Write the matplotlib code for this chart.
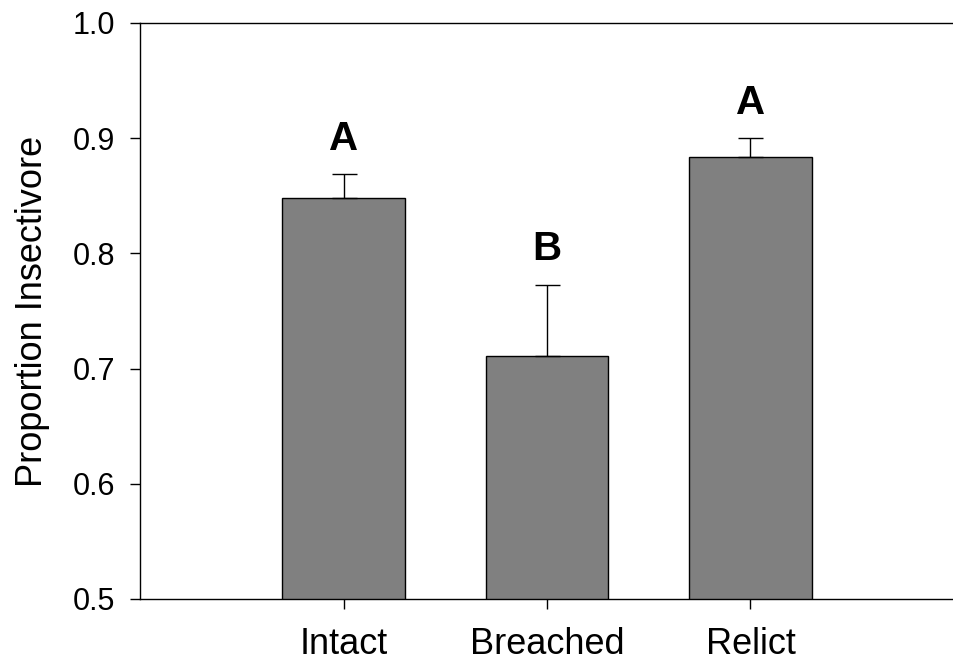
import matplotlib
matplotlib.use('Agg')
import matplotlib.pyplot as plt

plt.rcParams['font.family'] = ['Liberation Sans', 'DejaVu Sans']

# 数据
categories = ['Intact', 'Breached', 'Relict']
values = [0.848, 0.711, 0.884]
errors = [0.021, 0.062, 0.016]
letters = ['A', 'B', 'A']

fig = plt.figure(figsize=(9.54, 6.66), dpi=100)
ax = fig.add_axes([140 / 954, 1 - 599 / 666, 1 - 140 / 954, (599 - 23) / 666])

x = [1, 2, 3]
ax.bar(x, values, width=0.6, color='#808080', edgecolor='black', linewidth=1.0, zorder=2)
ax.errorbar(x, values, yerr=[[0] * 3, errors], fmt='none', ecolor='black',
            elinewidth=1.0, capsize=9, capthick=1.0, zorder=3)

for xi, v, e, lab in zip(x, values, errors, letters):
    ax.text(xi, v + e + 0.021, lab, ha='center', va='baseline',
            fontsize=29, fontweight='bold')

ax.set_xlim(0, 4)
ax.set_ylim(0.5, 1.0)
ax.set_xticks(x)
ax.set_xticklabels(categories, fontsize=26)
ax.set_yticks([0.5, 0.6, 0.7, 0.8, 0.9, 1.0])
ax.set_yticklabels(['0.5', '0.6', '0.7', '0.8', '0.9', '1.0'], fontsize=22)
ax.tick_params(direction='out', length=7, width=1.0)
ax.tick_params(axis='y', pad=11)
ax.tick_params(axis='x', pad=13)
ax.set_ylabel('Proportion Insectivore', fontsize=26, labelpad=16)
ax.spines['right'].set_visible(False)
for s in ['left', 'bottom', 'top']:
    ax.spines[s].set_linewidth(1.0)

fig.savefig('out.png', dpi=100)
